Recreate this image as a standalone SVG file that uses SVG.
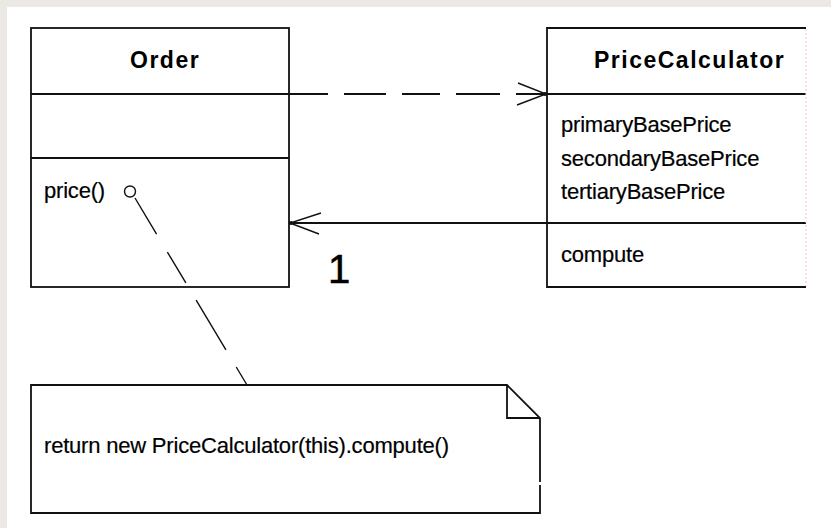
<svg xmlns="http://www.w3.org/2000/svg" width="831" height="528" viewBox="0 0 831 528">
  <style>
    .box { fill: #ffffff; stroke: #111111; stroke-width: 1.8; }
    .line { stroke: #111111; stroke-width: 1.8; fill: none; }
    .thin { stroke: #111111; stroke-width: 1.4; fill: none; }
    .title { font-family: "Liberation Sans", Arial, sans-serif; font-size: 23px; font-weight: bold; letter-spacing: 1.5px; fill: #000000; }
    .member { font-family: "Liberation Sans", Arial, sans-serif; font-size: 22px; letter-spacing: -0.2px; fill: #000000; stroke: #000000; stroke-width: 0.2; }
    .mult { font-family: "Liberation Sans", Arial, sans-serif; font-size: 40px; fill: #000000; stroke: #000000; stroke-width: 0.6; }
  </style>

  <!-- canvas -->
  <rect x="0" y="0" width="831" height="528" fill="#ece8e4"/>
  <rect x="7" y="7" width="824" height="521" fill="#ffffff"/>

  <!-- class Order -->
  <g id="order">
    <rect class="box" x="31" y="28" width="258" height="259"/>
    <line class="line" x1="31" y1="94" x2="289" y2="94"/>
    <line class="line" x1="31" y1="158" x2="289" y2="158"/>
    <text class="title" x="130" y="68">Order</text>
    <text class="member" x="44" y="198">price()</text>
    <circle class="thin" cx="130" cy="191.5" r="5.5"/>
  </g>

  <!-- class PriceCalculator (right side clipped by the view edge) -->
  <g id="price-calculator">
    <rect x="547" y="28" width="259" height="259" fill="#ffffff"/>
    <path class="line" d="M806 28H547V287H806"/>
    <line class="line" x1="547" y1="94" x2="806" y2="94"/>
    <line class="line" x1="547" y1="223" x2="806" y2="223"/>
    <line x1="806" y1="29" x2="806" y2="286" stroke="#ffc6df" stroke-width="1.2" stroke-dasharray="2 2"/>
    <text class="title" x="594" y="67.5">PriceCalculator</text>
    <text class="member" x="561" y="132">primaryBasePrice</text>
    <text class="member" x="561" y="166">secondaryBasePrice</text>
    <text class="member" x="561" y="199">tertiaryBasePrice</text>
    <text class="member" x="561" y="262">compute</text>
  </g>

  <!-- note attached to price() -->
  <g id="note">
    <path class="box" d="M31 385H507L540 418V513H31Z"/>
    <path class="line" d="M507 385V418H540"/>
    <line x1="540" y1="482" x2="540" y2="485" stroke="#ffffff" stroke-width="2.6"/>
    <text class="member" x="44" y="453">return new PriceCalculator(this).compute()</text>
  </g>

  <!-- connectors -->
  <g id="connectors">
    <!-- dependency Order -> PriceCalculator -->
    <path class="line" d="M289 94H328M344 94H386M402 94H440M456 94H500M516 94H546"/>
    <path class="thin" d="M518 83L546 94L517 105"/>
    <circle cx="545" cy="94" r="2" fill="#111111"/>

    <!-- association PriceCalculator -> Order -->
    <line class="line" x1="547" y1="223" x2="289" y2="223"/>
    <path class="thin" d="M321 213L290 223L319 234"/>
    <circle cx="291" cy="223" r="2" fill="#111111"/>
    <text class="mult" x="328" y="283">1</text>

    <!-- note anchor -->
    <line class="thin" x1="135" y1="198" x2="247" y2="385" stroke-dasharray="42 21 36 20 58 20 21"/>
  </g>
</svg>
